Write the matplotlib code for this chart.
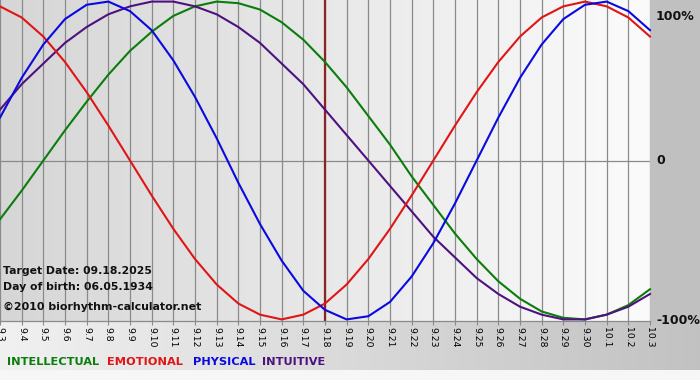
import numpy as np
import matplotlib
matplotlib.use("Agg")
import matplotlib.pyplot as plt
from matplotlib.colors import LinearSegmentedColormap

# ---------------- data ----------------
day_labels = ["9.3", "9.4", "9.5", "9.6", "9.7", "9.8", "9.9", "9.10", "9.11", "9.12",
              "9.13", "9.14", "9.15", "9.16", "9.17", "9.18", "9.19", "9.20", "9.21",
              "9.22", "9.23", "9.24", "9.25", "9.26", "9.27", "9.28", "9.29", "9.30",
              "10.1", "10.2", "10.3"]
target_index = 15  # 9.18

physical = [0.27, 0.52, 0.73, 0.89, 0.98, 1.00, 0.94, 0.82, 0.63, 0.40, 0.14,
            -0.14, -0.40, -0.63, -0.82, -0.94, -1.00, -0.98, -0.89, -0.73, -0.52,
            -0.27, 0.00, 0.27, 0.52, 0.73, 0.89, 0.98, 1.00, 0.94, 0.82]
emotional = [0.97, 0.90, 0.78, 0.62, 0.43, 0.22, 0.00, -0.22, -0.43, -0.62, -0.78,
             -0.90, -0.97, -1.00, -0.97, -0.90, -0.78, -0.62, -0.43, -0.22, 0.00,
             0.22, 0.43, 0.62, 0.78, 0.90, 0.97, 1.00, 0.97, 0.90, 0.78]
intellectual = [-0.37, -0.19, 0.00, 0.19, 0.37, 0.54, 0.69, 0.81, 0.91, 0.97, 1.00,
                0.99, 0.95, 0.87, 0.76, 0.62, 0.46, 0.28, 0.10, -0.10, -0.28,
                -0.46, -0.62, -0.76, -0.87, -0.95, -0.99, -1.00, -0.97, -0.91, -0.81]
intuitive = [0.32, 0.48, 0.61, 0.74, 0.84, 0.92, 0.97, 1.00, 1.00, 0.97, 0.92,
             0.84, 0.74, 0.61, 0.48, 0.32, 0.16, 0.00, -0.16, -0.32, -0.48,
             -0.61, -0.74, -0.84, -0.92, -0.97, -1.00, -1.00, -0.97, -0.92, -0.84]

y_labels = ["100%", "0", "-100%"]
legend_names = ["INTELLECTUAL", "EMOTIONAL", "PHYSICAL", "INTUITIVE"]
info_lines = ["Target Date: 09.18.2025", "Day of birth: 06.05.1934"]
copyright_text = "\u00a92010 biorhythm-calculator.net"

# ---------------- styles ----------------
C_INT = "#0b7d0b"
C_EMO = "#e01515"
C_PHY = "#0a0ae0"
C_ITU = "#4e1280"
plt.rcParams["font.family"] = ["DejaVu Sans"]

W, H = 700, 380
fig = plt.figure(figsize=(7.0, 3.8), dpi=100)

# figure background
bg = fig.add_axes([0, 0, 1, 1], zorder=-10)
img = np.zeros((H, W, 3))
img[:, :, :] = 0.753  # #c0c0c0
xs = np.linspace(0, 1, W)
band = 0.945 - (0.945 - 0.76) * xs
img[321:370, :, :] = band[None, :, None]
img[370:, :, :] = 0.965
bg.imshow(img, aspect="auto", extent=[0, W, H, 0], interpolation="bilinear")
bg.set_xlim(0, W)
bg.set_ylim(H, 0)
bg.axis("off")

# plot axes
ax_w = 650 / W
ax_bottom = 1 - 321 / H
ax_h = 321 / H
ax = fig.add_axes([0.0, ax_bottom, ax_w, ax_h])
n = len(day_labels)
x = np.arange(n)
ax.set_xlim(0, n - 1)
ax.set_ylim(-1.01, 1.01)

grad = np.linspace(0.84, 0.985, 256)[None, :]
cm = LinearSegmentedColormap.from_list("g", ["#d6d6d6", "#fbfbfb"])
ax.imshow(grad, cmap=cm, aspect="auto", extent=[0, n - 1, -1.01, 1.01], zorder=0)

for xi in x:
    ax.axvline(xi, color="#8a8a8a", lw=0.9, zorder=1)
ax.axhline(0, color="#8a8a8a", lw=0.9, zorder=1)
ax.axvline(x[target_index], color="#8b2323", lw=1.6, zorder=2)

lw = 1.5
ax.plot(x, intellectual, color=C_INT, lw=lw, zorder=3, clip_on=False)
ax.plot(x, intuitive, color=C_ITU, lw=lw, zorder=3, clip_on=False)
ax.plot(x, emotional, color=C_EMO, lw=lw, zorder=3, clip_on=False)
ax.plot(x, physical, color=C_PHY, lw=lw, zorder=3, clip_on=False)

for s in ["top", "left", "right"]:
    ax.spines[s].set_visible(False)
ax.spines["bottom"].set_color("#8a8a8a")
ax.spines["bottom"].set_linewidth(0.9)
ax.set_xticks(x)
ax.set_xticklabels(day_labels, rotation=-90, fontsize=6.7, va="top", ha="center")
ax.tick_params(axis="x", length=3, color="#8a8a8a", pad=1.0)
ax.set_yticks([])

# right-side labels
for lab, yv, dy in zip(y_labels, [1, 0, -1], [-17, 0, 0]):
    ypix = 160.5 - yv * 160.5 - dy
    fig.text(656 / W, 1 - ypix / H, lab, fontsize=9.0, fontweight="bold",
             ha="left", va="center", color="#111111")

# info text
fig.text(3 / W, 1 - 271 / H, info_lines[0], fontsize=7.8, fontweight="bold",
         ha="left", va="center", color="#111111")
fig.text(3 / W, 1 - 287 / H, info_lines[1], fontsize=7.8, fontweight="bold",
         ha="left", va="center", color="#111111")
fig.text(3 / W, 1 - 307 / H, copyright_text, fontsize=7.9, fontweight="bold",
         ha="left", va="center", color="#111111")

# legend
leg_x = [7, 107, 193, 262]
for name, lx, c in zip(legend_names, leg_x, [C_INT, C_EMO, C_PHY, C_ITU]):
    fig.text(lx / W, 1 - 362 / H, name, fontsize=8.2, fontweight="bold",
             ha="left", va="center", color=c)

fig.savefig("out.png", dpi=100)
